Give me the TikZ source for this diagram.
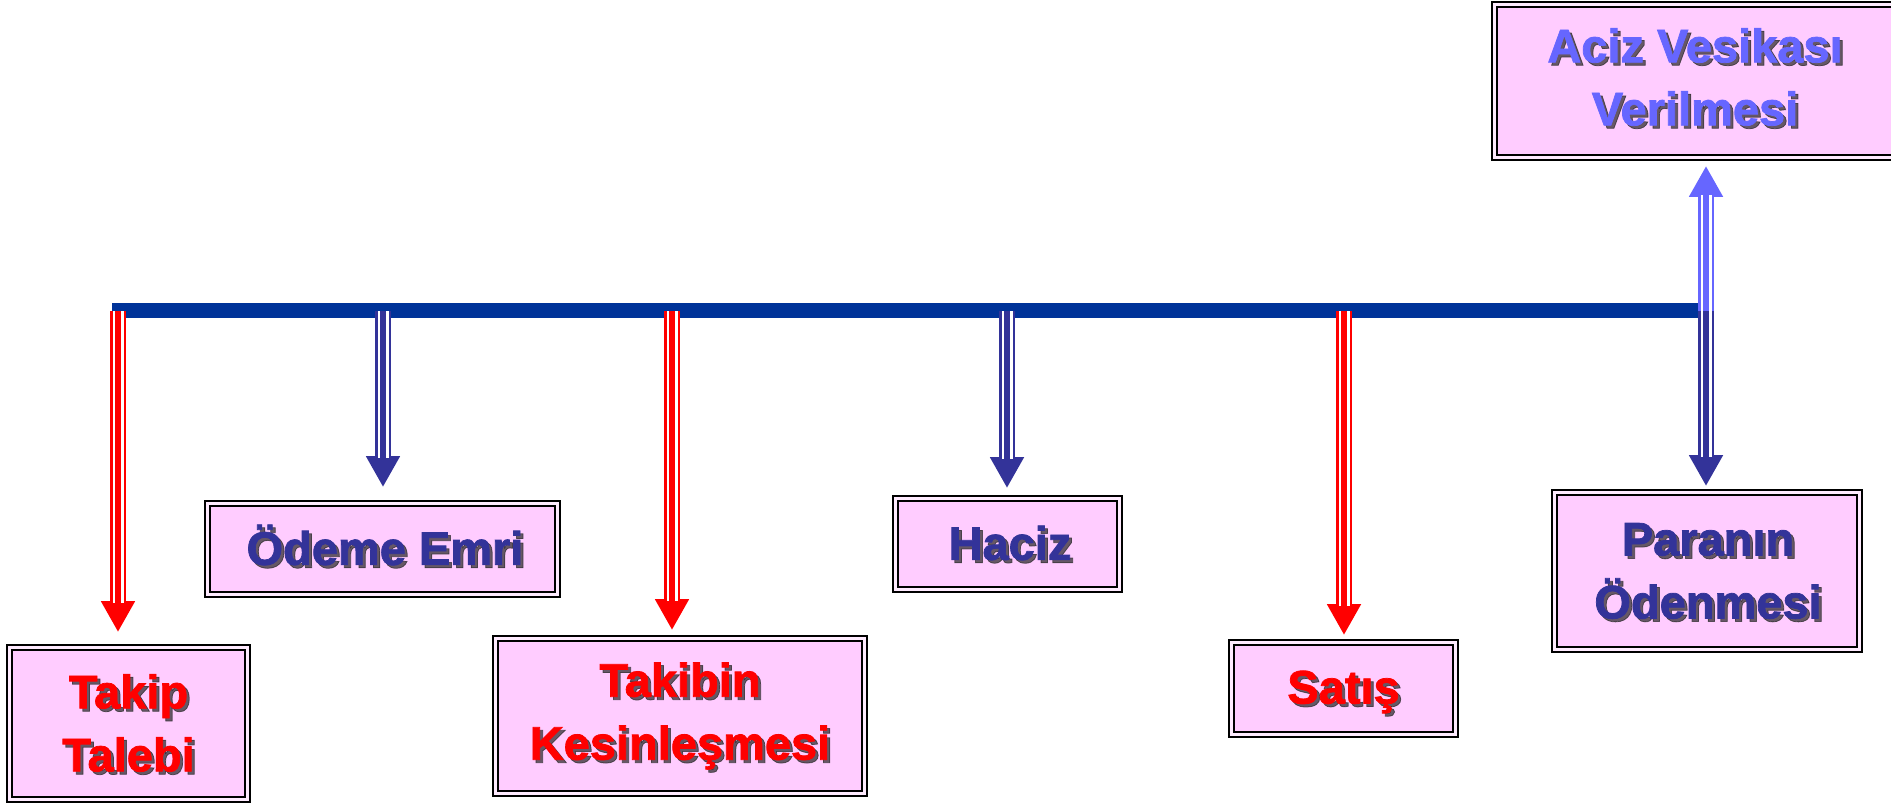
\documentclass[tikz,border=0pt]{standalone}
\usepackage{fontspec}
\setmainfont{Liberation Sans}[BoldFeatures={FakeBold=1.6}]
\usetikzlibrary{arrows.meta}
\definecolor{pinkfill}{HTML}{FFCCFF}
\definecolor{barblue}{HTML}{003399}
\definecolor{darkblue}{HTML}{333399}
\definecolor{lightblue}{HTML}{6666FF}
\definecolor{redc}{HTML}{FF0000}
\tikzset{
  box/.style={draw=black, line width=2.8pt, double=pinkfill!40!white, double distance=2.2pt,
    fill=pinkfill, inner sep=0pt, rectangle},
  txt/.style={font=\bfseries\fontsize{47}{63}\selectfont, align=center, inner sep=0pt},
  shadowtxt/.style={txt, text=black!85, opacity=0.7, xshift=3pt, yshift=-3pt},
  tri/.style n args={2}{draw=#1, line width=16pt, shorten >=#2,
    arrows={-{Triangle[width=32pt,length=31pt]}},
    postaction={draw=white, line width=11pt, arrows=-, shorten >=#2+29pt},
    postaction={draw=#1, line width=5.5pt, arrows=-, shorten >=#2+29pt}},
  bar/.style={draw=barblue, line width=15pt}
}
\newcommand\boxtext[4]{%
  \node[shadowtxt] at #2 {#4};
  \node[txt, text=#3] (#1) at #2 {#4};
}
\begin{document}
\begin{tikzpicture}[x=1pt,y=-1pt]
\useasboundingbox (0,0) rectangle (1891,806);
\begin{scope}
\clip (0,0) rectangle (1891,806);
% boxes
\node[box, minimum width=238pt, minimum height=152pt] (takip) at (128.5,723.5) {};
\node[box, minimum width=350pt, minimum height=91pt] (odeme) at (382.5,549) {};
\node[box, minimum width=369pt, minimum height=155pt] (takibin) at (680,716) {};
\node[box, minimum width=224pt, minimum height=91pt] (haciz) at (1007.5,544) {};
\node[box, minimum width=224pt, minimum height=92pt] (satis) at (1343.5,688.5) {};
\node[box, minimum width=305pt, minimum height=157pt] (paranin) at (1707,571) {};
\node[box, minimum width=401pt, minimum height=153pt] (aciz) at (1695,81) {};
\end{scope}
% texts
\boxtext{takip-t}{(128.5,723)}{redc}{Takip\\Talebi}
\boxtext{odeme-t}{(385,545)}{darkblue}{Ödeme Emri}
\boxtext{takibin-t}{(680,716)}{redc}{Takibin\\Kesinleşmesi}
\boxtext{haciz-t}{(1010,543)}{darkblue}{Haciz}
\boxtext{satis-t}{(1343.5,692)}{redc}{Satış}
\boxtext{paranin-t}{(1708,571)}{darkblue}{Paranın\\Ödenmesi}
\boxtext{aciz-t}{(1695,77)}{lightblue}{Aciz Vesikası\\Verilmesi}
% bar
\coordinate (barL) at (112,310.5);
\coordinate (barR) at (1714,310.5);
\draw[bar] (barL) -- (barR);
% arrow starts on the bar
\coordinate (s1) at (118,311);
\coordinate (s2) at (383,311);
\coordinate (s3) at (672,311);
\coordinate (s4) at (1007,311);
\coordinate (s5) at (1344,311);
\coordinate (s6) at (1706,311);
\coordinate (s7) at (1706,311);
\draw[tri={redc}{14pt}] (s1) -- (s1 |- takip.north);
\draw[tri={darkblue}{15pt}] (s2) -- (s2 |- odeme.north);
\draw[tri={redc}{7pt}] (s3) -- (s3 |- takibin.north);
\draw[tri={darkblue}{9pt}] (s4) -- (s4 |- haciz.north);
\draw[tri={redc}{6pt}] (s5) -- (s5 |- satis.north);
\draw[tri={darkblue}{5pt}] (s6) -- (s6 |- paranin.north);
\draw[tri={lightblue}{7pt}] (s7) -- (s7 |- aciz.south);
\end{tikzpicture}
\end{document}
